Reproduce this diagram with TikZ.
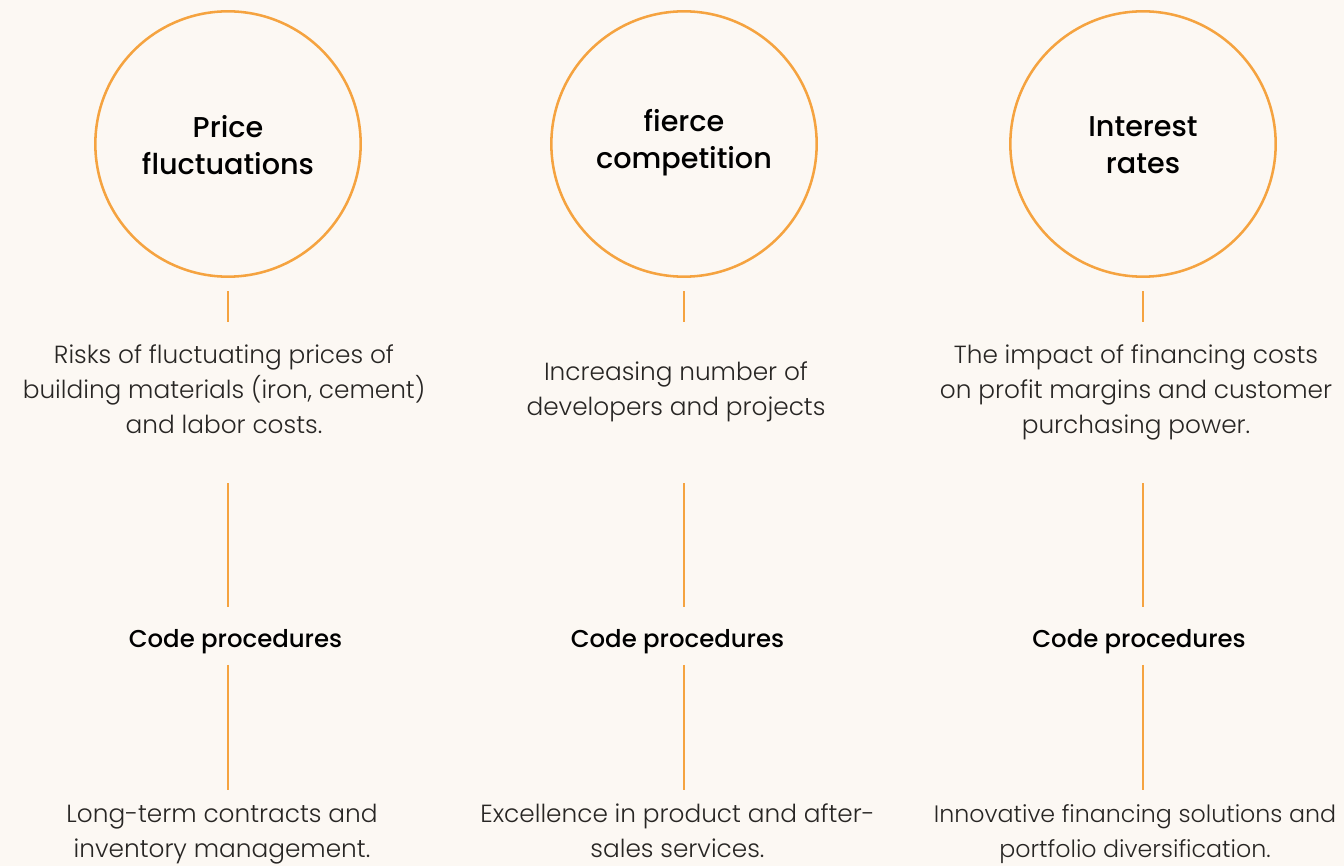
\documentclass[tikz,border=0pt]{standalone}
\usepackage{fontspec}
\setmainfont{Poppins}[UprightFont=* Light,BoldFont=* Medium]
\usepackage{tikz}

\definecolor{paper}{RGB}{252,248,243}
\definecolor{accent}{RGB}{245,163,64}
\definecolor{ink}{RGB}{40,38,36}

\tikzset{
	riskcircle/.style={circle,draw=accent,line width=1.9pt,minimum size=199pt,inner sep=0pt},
	titletext/.style={align=center,text=black,inner sep=0pt,font=\bfseries\fontsize{21.5}{27.75}\selectfont,execute at begin node=\strut,execute at end node=\strut},
	desctext/.style={align=center,text=ink,inner sep=0pt,minimum height=90pt,font=\fontsize{18.6}{26.25}\selectfont,execute at begin node=\strut,execute at end node=\strut},
	soltext/.style={desctext,minimum height=60pt},
	codetext/.style={font=\bfseries\fontsize{18.3}{22}\selectfont,text=black,inner sep=0pt,minimum height=30pt},
	link/.style={draw=accent,line width=1.4pt}
}

\begin{document}
\begin{tikzpicture}[x=0.75pt,y=-0.75pt]
		\fill[paper] (0,0) rectangle (1344,866);
		\useasboundingbox (0,0) rectangle (1344,866);
		% first column
		\node[riskcircle] (price) at (228,144) {};
		\node[titletext] (pricetitle) at (228,150.5) {Price\\fluctuations};
		\node[desctext] (pricedesc) at (224,394) {Risks of fluctuating prices of\\building materials (iron, cement)\\and labor costs.};
		\node[codetext] (pricecode) at (235.5,642) {Code procedures};
		\node[soltext] (pricesol) at (222,836) {Long-term contracts and\\inventory management.};
		\draw[link,shorten <=10pt,shorten >=8.75pt] (price) -- (price |- pricedesc.north);
		\draw[link,shorten <=21.75pt,shorten >=11pt] (price |- pricedesc.south) -- (price |- pricecode.north);
		\draw[link,shorten <=2pt,shorten >=4.5pt] (price |- pricecode.south) -- (price |- pricesol.north);
		% second column
		\node[riskcircle] (rival) at (684,144) {};
		\node[titletext] (rivaltitle) at (684,144) {fierce\\competition};
		\node[desctext] (rivaldesc) at (676,394) {Increasing number of\\developers and projects};
		\node[codetext] (rivalcode) at (677.5,642) {Code procedures};
		\node[soltext] (rivalsol) at (677.5,836) {Excellence in product and after-\\sales services.};
		\draw[link,shorten <=10pt,shorten >=8.75pt] (rival) -- (rival |- rivaldesc.north);
		\draw[link,shorten <=21.75pt,shorten >=11pt] (rival |- rivaldesc.south) -- (rival |- rivalcode.north);
		\draw[link,shorten <=2pt,shorten >=4.5pt] (rival |- rivalcode.south) -- (rival |- rivalsol.north);
		% third column
		\node[riskcircle] (rate) at (1143,144) {};
		\node[titletext] (ratetitle) at (1143,150.5) {Interest\\rates};
		\node[desctext] (ratedesc) at (1136,394) {The impact of financing costs\\on profit margins and customer\\purchasing power.};
		\node[codetext] (ratecode) at (1139,642) {Code procedures};
		\node[soltext,font=\fontsize{17.8}{26.25}\selectfont] (ratesol) at (1135,836) {Innovative financing solutions and\\portfolio diversification.};
		\draw[link,shorten <=10pt,shorten >=8.75pt] (rate) -- (rate |- ratedesc.north);
		\draw[link,shorten <=21.75pt,shorten >=11pt] (rate |- ratedesc.south) -- (rate |- ratecode.north);
		\draw[link,shorten <=2pt,shorten >=4.5pt] (rate |- ratecode.south) -- (rate |- ratesol.north);
\end{tikzpicture}
\end{document}
